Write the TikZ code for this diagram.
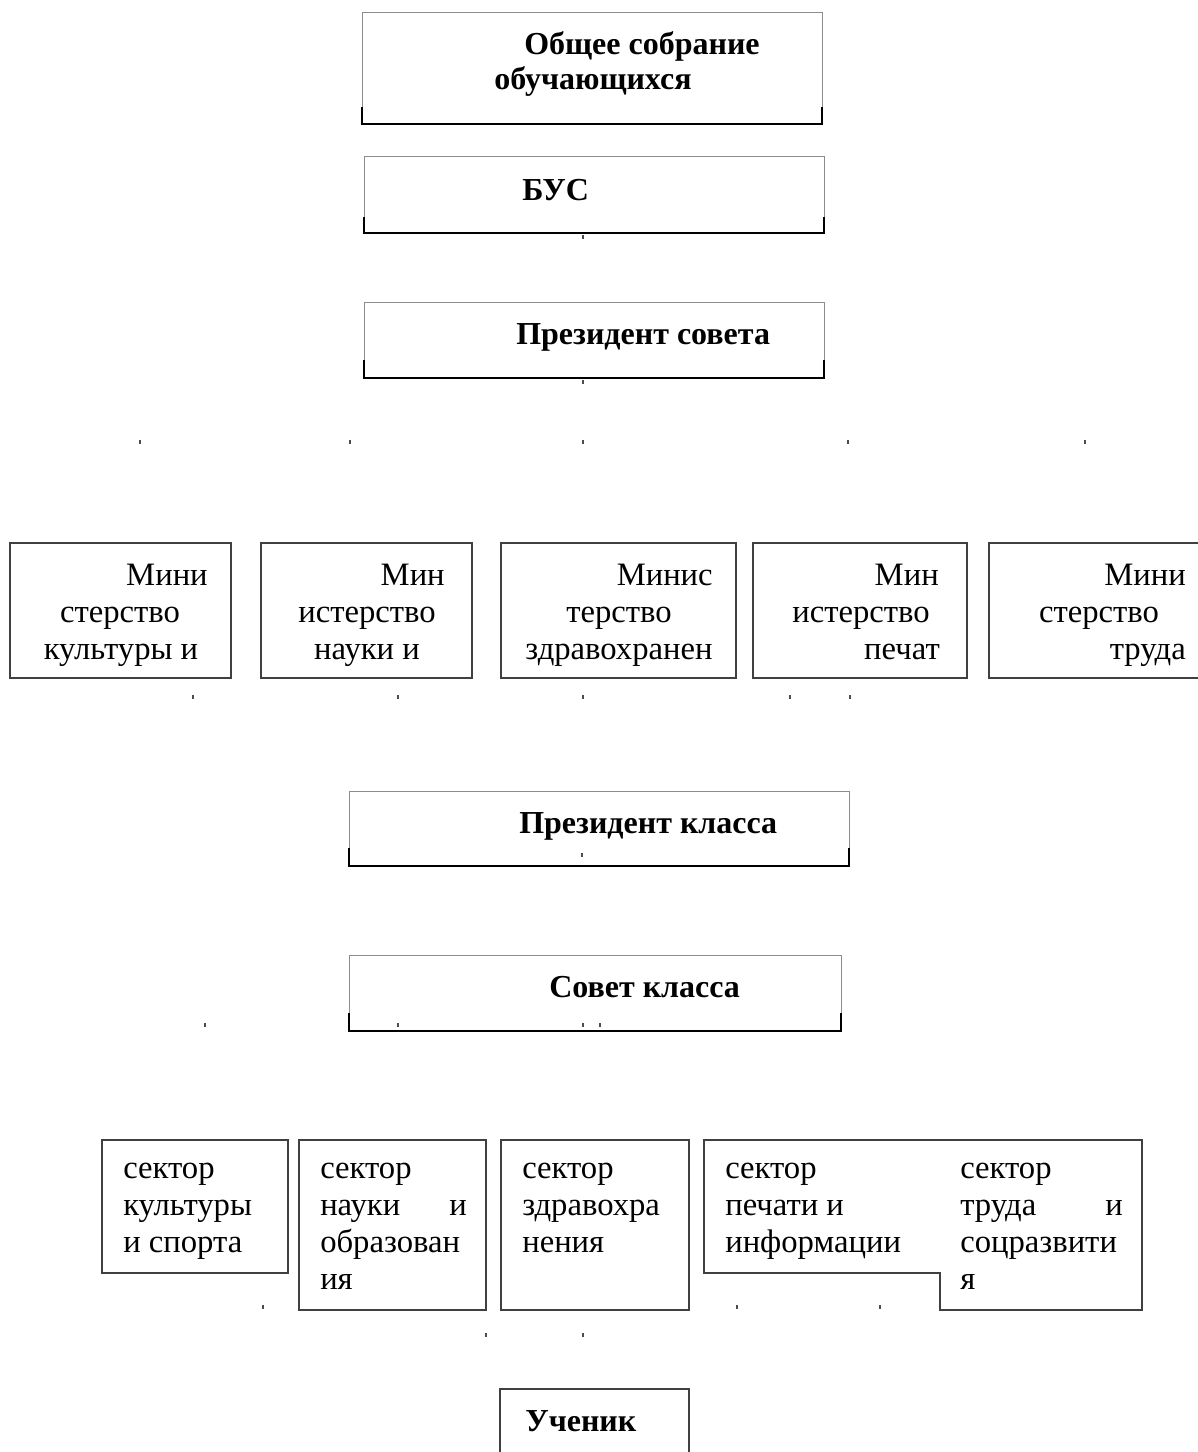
\documentclass[tikz,border=0pt]{standalone}
\usepackage{fontspec}
\setmainfont{Liberation Serif}
\begin{document}
\begin{tikzpicture}[x=0.75pt,y=-0.75pt,
  frame/.style={draw=black!45,line width=0.75pt},
  thin/.style={draw=black!75,line width=0.8pt},
  bracket/.style={draw=black,line width=1.6pt},
  hd/.style={inner sep=0pt,font=\fontsize{24}{28}\selectfont\bfseries},
  tx/.style={inner sep=0pt,font=\fontsize{24.5}{28}\selectfont},
  tick/.style={fill=black!70}]
\useasboundingbox[fill=white] (0,0) rectangle (1198,1452);

% ---- top boxes with bottom bracket
\coordinate (b1nw) at (362,13);  \coordinate (b1se) at (822,124);
\draw[frame] (b1nw) rectangle (b1se);
\draw[bracket] (362,107) -- (b1nw |- b1se) -- (b1se) -- (822,107);
\node[hd,anchor=base west] (t1a) at (524,55) {Общее собрание};
\node[hd,anchor=base west] (t1b) at (494,90) {обучающихся};

\coordinate (b2nw) at (364,157); \coordinate (b2se) at (824,233);
\draw[frame] (b2nw) rectangle (b2se);
\draw[bracket] (364,217) -- (b2nw |- b2se) -- (b2se) -- (824,217);
\node[hd,anchor=base west] (t2) at (522,200) {БУС};

\coordinate (b3nw) at (364,302); \coordinate (b3se) at (824,378);
\draw[frame] (b3nw) rectangle (b3se);
\draw[bracket] (364,360) -- (b3nw |- b3se) -- (b3se) -- (824,360);
\node[hd,anchor=base west] (t3) at (516,344) {Президент совета};

% ---- ministries
\draw[thin] (10,543) rectangle (231,678);
\node[tx,anchor=base east] (m1a) at (208,585) {Мини};
\node[tx,anchor=base] (m1b) at (120,622) {стерство};
\node[tx,anchor=base] (m1c) at (121,659) {культуры и};

\draw[thin] (261,543) rectangle (472,678);
\node[tx,anchor=base east] (m2a) at (445,585) {Мин};
\node[tx,anchor=base] (m2b) at (367,622) {истерство};
\node[tx,anchor=base] (m2c) at (367,659) {науки и};

\draw[thin] (501,543) rectangle (736,678);
\node[tx,anchor=base east] (m3a) at (713,585) {Минис};
\node[tx,anchor=base] (m3b) at (619,622) {терство};
\node[tx,anchor=base] (m3c) at (619,659) {здравохранен};

\draw[thin] (753,543) rectangle (967,678);
\node[tx,anchor=base east] (m4a) at (939,585) {Мин};
\node[tx,anchor=base] (m4b) at (861,622) {истерство};
\node[tx,anchor=base east] (m4c) at (940,659) {печат};

\draw[thin] (1198,543) -- (989,543) -- (989,678) -- (1198,678);
\node[tx,anchor=base east] (m5a) at (1186,585) {Мини};
\node[tx,anchor=base] (m5b) at (1099,622) {стерство};
\node[tx,anchor=base east] (m5c) at (1186,659) {труда};

% ---- class boxes
\coordinate (pknw) at (349,791); \coordinate (pkse) at (849,866);
\draw[frame] (pknw) rectangle (pkse);
\draw[bracket] (349,848) -- (pknw |- pkse) -- (pkse) -- (849,848);
\node[hd,anchor=base west] (tpk) at (519,833) {Президент класса};

\coordinate (sknw) at (349,955); \coordinate (skse) at (841,1031);
\draw[frame] (sknw) rectangle (skse);
\draw[bracket] (349,1013) -- (sknw |- skse) -- (skse) -- (841,1013);
\node[hd,anchor=base west] (tsk) at (549,997) {Совет класса};

% ---- sectors
\draw[thin] (102,1140) rectangle (288,1273);
\node[tx,anchor=base west] (s1a) at (123,1178) {сектор};
\node[tx,anchor=base west] (s1b) at (123,1215) {культуры};
\node[tx,anchor=base west] (s1c) at (123,1252) {и спорта};

\draw[thin] (299,1140) rectangle (486,1310);
\node[tx,anchor=base west] (s2a) at (320,1178) {сектор};
\node[tx,anchor=base west] (s2b) at (320,1215) {науки};
\node[tx,anchor=base east] (s2c) at (467,1215) {и};
\node[tx,anchor=base west] (s2d) at (320,1252) {образован};
\node[tx,anchor=base west] (s2e) at (320,1289) {ия};

\draw[thin] (501,1140) rectangle (689,1310);
\node[tx,anchor=base west] (s3a) at (522,1178) {сектор};
\node[tx,anchor=base west] (s3b) at (522,1215) {здравохра};
\node[tx,anchor=base west] (s3c) at (522,1252) {нения};

\draw[thin] (704,1140) -- (1142,1140) -- (1142,1310) -- (940,1310) -- (940,1273) -- (704,1273) -- cycle;
\node[tx,anchor=base west] (s4a) at (725,1178) {сектор};
\node[tx,anchor=base west] (s4b) at (725,1215) {печати и};
\node[tx,anchor=base west] (s4c) at (725,1252) {информации};
\node[tx,anchor=base west] (s5a) at (960,1178) {сектор};
\node[tx,anchor=base west] (s5b) at (960,1215) {труда};
\node[tx,anchor=base east] (s5c) at (1123,1215) {и};
\node[tx,anchor=base west] (s5d) at (960,1252) {соцразвити};
\node[tx,anchor=base west] (s5e) at (960,1289) {я};

% ---- pupil
\draw[thin] (500,1452) -- (500,1389) -- (689,1389) -- (689,1452);
\node[hd,anchor=base west] (tu) at (525,1431) {Ученик};

% ---- tiny marks
\foreach \x/\y in {583/237,583/382,140/442,350/442,583/442,848/442,1085/442,
  193/697,398/697,583/697,790/697,850/697,582/855,205/1025,398/1025,583/1025,600/1025,
  263/1307,737/1307,880/1307,486/1335,583/1335}
  \fill[tick] (\x-0.6,\y-2) rectangle (\x+0.6,\y+2);
\end{tikzpicture}
\end{document}
